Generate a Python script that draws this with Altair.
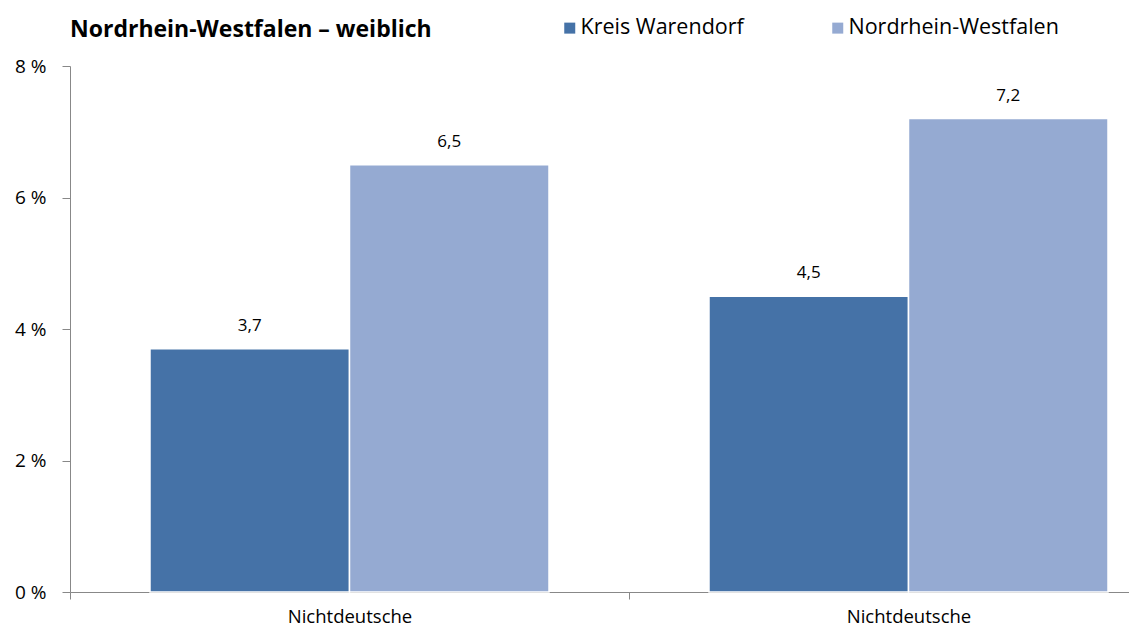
import altair as alt
import pandas as pd

categories = ["Nichtdeutsche", "Nichtdeutsche "]
series = ["Kreis Warendorf", "Nordrhein-Westfalen"]
kreis = [3.7, 4.5]
nrw = [6.5, 7.2]
colors = ["#4572A7", "#95AAD2"]
y_ticks = [0, 2, 4, 6, 8]
title_text = "Nordrhein-Westfalen – weiblich"

rows = []
for i, c in enumerate(categories):
    rows.append({"cat": c, "series": series[0], "value": kreis[i]})
    rows.append({"cat": c, "series": series[1], "value": nrw[i]})
df = pd.DataFrame(rows)

FONT = "Open Sans"

x = alt.X("cat:N", sort=categories, title=None,
          scale=alt.Scale(paddingInner=0, paddingOuter=0),
          axis=alt.Axis(labelAngle=0, labelFontSize=18.5, labelFont=FONT, labelColor="#000",
                        labelPadding=8, tickBand="extent", tickSize=7, tickColor="#888",
                        domainColor="#888", labelExpr="trim(datum.label)", labelLimit=300))
xo = alt.XOffset("series:N", sort=series, scale=alt.Scale(paddingInner=0, paddingOuter=0.401))
y = alt.Y("value:Q", title=None,
          scale=alt.Scale(domain=[0, 8], nice=False),
          axis=alt.Axis(values=y_ticks, grid=False, labelExpr="datum.value + ' %'",
                        labelFontSize=19, labelFont=FONT, labelColor="#000", labelPadding=16,
                        tickSize=8, tickColor="#888", domainColor="#888"))

base = alt.Chart(df)

bars = base.mark_bar(stroke="white", strokeWidth=1.5).encode(
    x=x, xOffset=xo, y=y,
    color=alt.Color("series:N", sort=series,
                    scale=alt.Scale(domain=series, range=colors),
                    legend=alt.Legend(title=None, orient="none", legendX=489, legendY=-49,
                                      direction="horizontal", symbolType="square",
                                      symbolSize=121, symbolStrokeWidth=0,
                                      labelFontSize=21.5, labelFont=FONT, labelColor="#000",
                                      labelLimit=400, columnPadding=83, labelOffset=0)),
)

labels = base.transform_calculate(
    lab="replace(format(datum.value, '.1f'), '.', ',')"
).mark_text(baseline="bottom", dy=-14, fontSize=17, font=FONT, color="#000").encode(
    x=alt.X("cat:N", sort=categories), xOffset=xo, y="value:Q", text="lab:N"
)

title = alt.Chart(pd.DataFrame({"t": [title_text]})).mark_text(
    align="left", baseline="alphabetic", fontSize=23, fontWeight="bold", font=FONT, color="#000"
).encode(x=alt.value(0), y=alt.value(-29), text="t:N")

chart = alt.layer(bars, labels, title).properties(
    width=1118, height=526,
    autosize=alt.AutoSizeParams(type="none"),
    padding={"left": 62, "top": 58, "right": -59, "bottom": 37},
).configure_view(stroke=None)

chart.save("out.html", embed_options={"renderer": "svg", "actions": False})
